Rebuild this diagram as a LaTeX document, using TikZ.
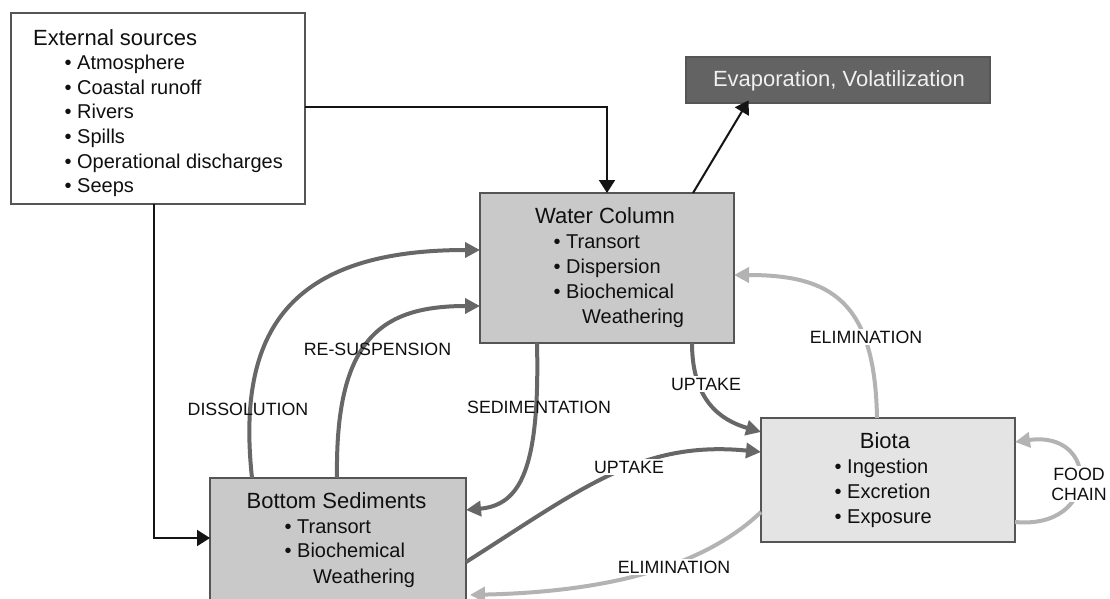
\documentclass[tikz,border=0pt]{standalone}
\usepackage{fontspec}
\setmainfont{Liberation Sans}
\usetikzlibrary{arrows.meta,calc}
\definecolor{boxgray}{HTML}{C9C9C9}
\definecolor{lightbox}{HTML}{E4E4E4}
\definecolor{evapgray}{HTML}{636363}
\definecolor{bordergray}{HTML}{555555}
\definecolor{darkarrow}{HTML}{676767}
\definecolor{lightarrow}{HTML}{B3B3B3}
\definecolor{txt}{HTML}{101010}
\begin{document}
\begin{tikzpicture}[x=1pt,y=-1pt,
  box/.style={draw=bordergray, line width=1.3pt, inner sep=0pt, outer sep=0pt, anchor=north west},
  ttl/.style={font=\fontsize{22}{26}\selectfont, inner sep=0pt, anchor=base, text=txt},
  item/.style={font=\fontsize{20}{24}\selectfont, inner sep=0pt, anchor=base west, text=txt},
  lab/.style={font=\fontsize{17.8}{20}\selectfont, inner sep=0pt, anchor=base, text=txt},
  labw/.style={lab, fill=white, inner sep=2pt},
  blk/.style={draw=black!92, line width=2pt, -{Triangle[length=13pt,width=16pt]}},
  dk/.style={draw=darkarrow, line width=4pt, -{Triangle[length=15pt,width=15pt]}},
  lt/.style={draw=lightarrow, line width=4pt, -{Triangle[length=15pt,width=15pt]}}]
\useasboundingbox (0,0) rectangle (1110,599);
\fill[white] (0,0) rectangle (1110,599);

% boxes
\node[box, fill=white, minimum width=294pt, minimum height=191pt] (ext) at (11,13) {};
\node[box, fill=evapgray, minimum width=304pt, minimum height=46pt] (evap) at (686,57) {};
\node[box, fill=boxgray, minimum width=254pt, minimum height=150pt] (wc) at (480,193) {};
\node[box, fill=boxgray, minimum width=256pt, minimum height=140pt] (bs) at (210,478) {};
\node[box, fill=lightbox, minimum width=254pt, minimum height=124pt] (biota) at (761,418) {};

% texts: external sources
\node[ttl, anchor=base west] (extt) at (33,46) {External sources};
\node[item] (ext1) at (77,70) {\llap{• }Atmosphere};
\node[item] (ext2) at (77,94.5) {\llap{• }Coastal runoff};
\node[item] (ext3) at (77,119) {\llap{• }Rivers};
\node[item] (ext4) at (77,143.5) {\llap{• }Spills};
\node[item] (ext5) at (77,168) {\llap{• }Operational discharges};
\node[item] (ext6) at (77,192.5) {\llap{• }Seeps};

% evaporation
\node[ttl, text=white!94!black] (evapt) at (839,87) {Evaporation, Volatilization};

% water column
\node[ttl] (wct) at (605,223) {Water Column};
\node[item] (wc1) at (566,248) {\llap{• }Transort};
\node[item] (wc2) at (566,273) {\llap{• }Dispersion};
\node[item] (wc3) at (566,298) {\llap{• }Biochemical};
\node[item] (wc4) at (582,323) {Weathering};

% bottom sediments
\node[ttl] (bst) at (336.5,508) {Bottom Sediments};
\node[item] (bs1) at (297,533) {\llap{• }Transort};
\node[item] (bs2) at (297,557) {\llap{• }Biochemical};
\node[item] (bs3) at (313,583) {Weathering};

% biota
\node[ttl] (bit) at (885,448) {Biota};
\node[item] (bi1) at (847,473) {\llap{• }Ingestion};
\node[item] (bi2) at (847,498) {\llap{• }Excretion};
\node[item] (bi3) at (847,523) {\llap{• }Exposure};

% black connectors
\draw[blk] (ext.east |- 0,107) -| (607,0 |- wc.north);
\draw[blk] (154,0 |- ext.south) |- (bs.west |- 0,538);
\draw[blk, shorten >=-3pt] (693,0 |- wc.north) -- (747,0 |- evap.south);

% dark gray connectors
\draw[dk] (252,0 |- bs.north) .. controls (236,330) and (290,250) .. (wc.west |- 0,250);
\draw[dk] (337,0 |- bs.north) .. controls (335,340) and (380,306) .. (wc.west |- 0,306);
\draw[dk] (537,0 |- wc.south) .. controls (540,470) and (520,505) .. (bs.east |- 0,510);
\draw[dk] (692,0 |- wc.south) .. controls (692,400) and (720,420) .. (biota.west |- 0,432);
\draw[dk] (bs.east |- 0,562) .. controls (580,490) and (640,440) .. (biota.west |- 0,452);

% light gray connectors
\draw[lt, shorten >=4pt] (biota.west |- 0,512) .. controls (700,570) and (600,592) .. (bs.east |- 0,595);
\draw[lt] (877,0 |- biota.north) .. controls (875,300) and (830,275) .. (wc.east |- 0,275);
\draw[lt] (biota.east |- 0,522) .. controls (1100,530) and (1100,430) .. (biota.east |- 0,442);

% labels
\node[lab] (ldis) at (248,415) {DISSOLUTION};
\node[lab] (lres) at (377.5,355) {RE-SUSPENSION};
\node[lab] (lsed) at (539,413) {SEDIMENTATION};
\node[labw] (lup1) at (706,390) {UPTAKE};
\node[labw] (lup2) at (629,473) {UPTAKE};
\node[labw] (lel1) at (674,573) {ELIMINATION};
\node[labw] (lel2) at (866,343) {ELIMINATION};
\node[lab, fill=white, inner sep=2pt, align=center, anchor=center, font=\fontsize{17.8}{20}\selectfont] (lfood) at (1079,484) {FOOD\\CHAIN};
\end{tikzpicture}
\end{document}
